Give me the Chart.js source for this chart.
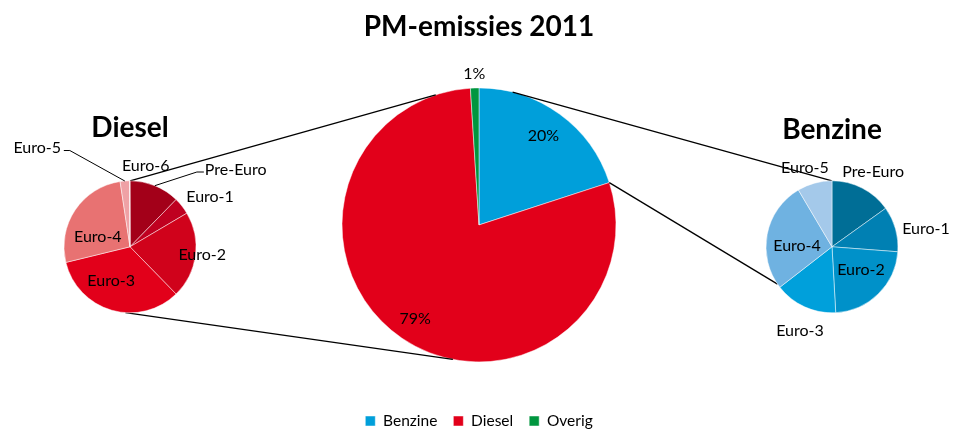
<!DOCTYPE html>
<html>
<head>
<meta charset="utf-8">
<script src="https://cdn.jsdelivr.net/npm/chart.js@4"></script>
<style>
  html, body { margin: 0; padding: 0; background: #fff; overflow: hidden; }
  #wrap { position: relative; width: 958px; height: 430px; }
  .box { position: absolute; }
</style>
</head>
<body>
<div id="wrap">
  <div class="box" style="left:0;top:0;width:958px;height:430px"><canvas id="mainChart"></canvas></div>
  <div class="box" style="left:0;top:100px;width:280px;height:250px"><canvas id="dieselChart"></canvas></div>
  <div class="box" style="left:706px;top:100px;width:252px;height:250px"><canvas id="benzineChart"></canvas></div>
</div>
<script>
// aandeel PM-emissies 2011 (%)
const mainLabels = ["Benzine", "Diesel", "Overig"];
const mainShares = [20, 79, 1];

const dieselLabels = ["Pre-Euro", "Euro-1", "Euro-2", "Euro-3", "Euro-4", "Euro-5", "Euro-6"];
const dieselShares = [12.3, 4.2, 21.2, 33.5, 26.4, 2.3, 0.1];

const benzineLabels = ["Pre-Euro", "Euro-1", "Euro-2", "Euro-3", "Euro-4", "Euro-5"];
const benzineShares = [15.1, 11.1, 22.9, 15.4, 27.0, 8.5];

const mainColors = ["#009FDA", "#E2001A", "#00963F"];
const dieselColors = ["#A30019", "#BF0020", "#D0021B", "#E2001A", "#E87272", "#EFA1A5", "#F6CDD0"];
const benzineColors = ["#006E96", "#0080B3", "#0091C9", "#00A0DB", "#6FB2E1", "#A4C9EA"];

const FONT = "Lato";

// hoek in graden, met de klok mee vanaf boven
function polar(arc, deg, k) {
  const a = (deg - 90) * Math.PI / 180;
  return { x: arc.x + Math.cos(a) * arc.outerRadius * k, y: arc.y + Math.sin(a) * arc.outerRadius * k };
}
function midDeg(arc) {
  return ((arc.startAngle + arc.endAngle) / 2) * 180 / Math.PI + 90;
}

function makeLabels(cfg) {
  return {
    id: "sliceLabels",
    afterDatasetsDraw(chart) {
      const ctx = chart.ctx;
      const arcs = chart.getDatasetMeta(0).data;
      ctx.save();
      ctx.font = cfg.font;
      ctx.fillStyle = "#000";
      ctx.textAlign = "center";
      ctx.textBaseline = "middle";
      arcs.forEach((arc, i) => {
        const deg = cfg.angles ? cfg.angles[i] : midDeg(arc);
        const p = polar(arc, deg, cfg.radius[i]);
        ctx.fillText(cfg.texts[i], p.x, p.y);
      });
      ctx.strokeStyle = "#000";
      ctx.lineWidth = 1;
      (cfg.leaders || []).forEach((l) => {
        const arc = arcs[l.index];
        const a = polar(arc, midDeg(arc), 1);
        const b = polar(arc, l.angle, l.radius);
        ctx.beginPath();
        ctx.moveTo(a.x, a.y);
        ctx.lineTo(b.x, b.y);
        ctx.lineTo(b.x + l.tail, b.y);
        ctx.stroke();
      });
      ctx.restore();
    },
  };
}

function pieDataset(values, colors) {
  return {
    data: values,
    backgroundColor: colors,
    borderColor: "rgba(255,255,255,0.6)",
    borderWidth: 0.8,
  };
}

function titleOpts(text, top, bottom) {
  return {
    display: true,
    text: text,
    color: "#000",
    font: { family: FONT, size: 28, weight: "bold" },
    padding: { top: top, bottom: bottom },
  };
}

const dieselChart = new Chart(document.getElementById("dieselChart"), {
  type: "pie",
  data: {
    labels: dieselLabels,
    datasets: [Object.assign(pieDataset(dieselShares, dieselColors), { radius: 66 })],
  },
  options: {
    responsive: true,
    maintainAspectRatio: false,
    animation: false,
    layout: { padding: { right: 20, bottom: 20 } },
    plugins: {
      title: titleOpts("Diesel", 11, 19),
      legend: { display: false },
      tooltip: { enabled: false },
    },
  },
  plugins: [
    makeLabels({
      font: "16px " + FONT,
      texts: dieselLabels,
      angles: [54, 58, 96, 209, 287, 317, 11],
      radius: [1.98, 1.43, 1.1, 0.59, 0.51, 2.06, 1.25],
      leaders: [
        { index: 0, angle: 41.8, radius: 1.52, tail: 7 },
        { index: 5, angle: 328, radius: 1.72, tail: -6 },
      ],
    }),
  ],
});

const benzineChart = new Chart(document.getElementById("benzineChart"), {
  type: "pie",
  data: {
    labels: benzineLabels,
    datasets: [Object.assign(pieDataset(benzineShares, benzineColors), { radius: 66 })],
  },
  options: {
    responsive: true,
    maintainAspectRatio: false,
    animation: false,
    layout: { padding: { bottom: 20 } },
    plugins: {
      title: titleOpts("Benzine", 13, 17),
      legend: { display: false },
      tooltip: { enabled: false },
    },
  },
  plugins: [
    makeLabels({
      font: "16px " + FONT,
      texts: benzineLabels,
      angles: [28.7, 79, 128.4, 200.9, 271.6, 341],
      radius: [1.3, 1.45, 0.56, 1.36, 0.53, 1.26],
    }),
  ],
});

// verbindingslijnen tussen de grote en de kleine taarten
const connectorLines = [
  { chart: dieselChart, mainAngle: 341.6, sideAngle: 0 },
  { chart: dieselChart, mainAngle: 191, sideAngle: 184 },
  { chart: benzineChart, mainAngle: 14.2, sideAngle: 0 },
  { chart: benzineChart, mainAngle: 72, sideAngle: 235.6 },
];

const connectors = {
  id: "connectors",
  afterDraw(chart) {
    const ctx = chart.ctx;
    const main = chart.getDatasetMeta(0).data[0];
    const mainBox = chart.canvas.parentNode;
    ctx.save();
    ctx.strokeStyle = "#000";
    ctx.lineWidth = 1.3;
    connectorLines.forEach((c) => {
      const other = c.chart.getDatasetMeta(0).data[0];
      const box = c.chart.canvas.parentNode;
      const p = polar(main, c.mainAngle, 1);
      const q = polar(other, c.sideAngle, 1);
      ctx.beginPath();
      ctx.moveTo(p.x, p.y);
      ctx.lineTo(q.x + box.offsetLeft - mainBox.offsetLeft, q.y + box.offsetTop - mainBox.offsetTop);
      ctx.stroke();
    });
    ctx.restore();
  },
};

const mainChart = new Chart(document.getElementById("mainChart"), {
  type: "pie",
  data: {
    labels: mainLabels,
    datasets: [Object.assign(pieDataset(mainShares, mainColors), { radius: 137 })],
  },
  options: {
    responsive: true,
    maintainAspectRatio: false,
    animation: false,
    layout: { padding: { bottom: -8.75 } },
    plugins: {
      title: titleOpts("PM-emissies 2011", 10, 9),
      legend: {
        position: "bottom",
        labels: {
          boxWidth: 10,
          boxHeight: 10,
          padding: 16,
          color: "#000",
          font: { family: FONT, size: 15.5 },
        },
      },
      tooltip: { enabled: false },
    },
  },
  plugins: [
    connectors,
    makeLabels({
      font: "16px " + FONT,
      texts: mainShares.map((v) => v + "%"),
      radius: [0.8, 0.83, 1.1],
    }),
  ],
});
</script>
</body>
</html>
